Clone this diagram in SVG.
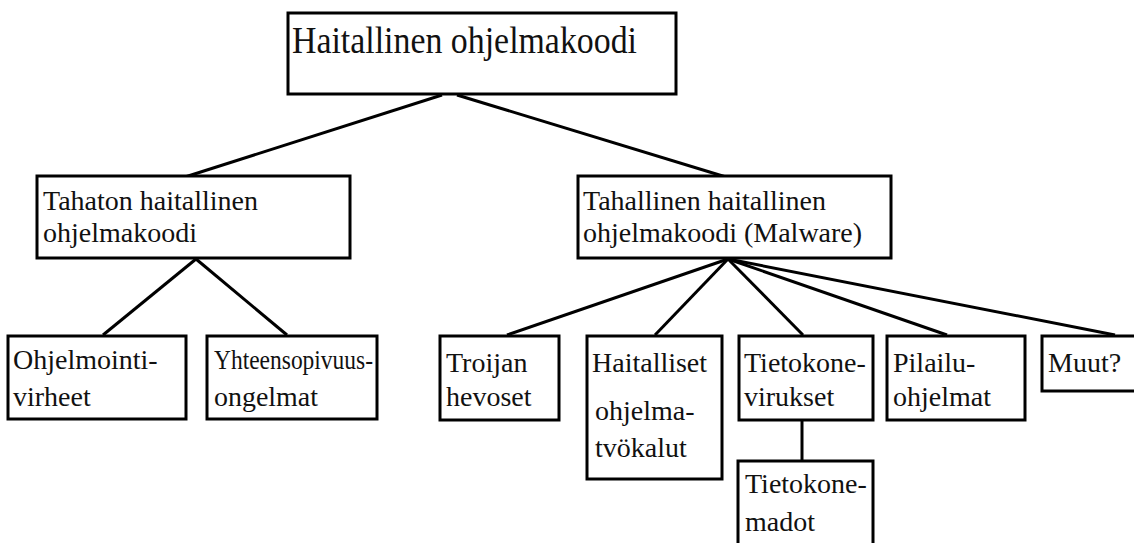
<svg xmlns="http://www.w3.org/2000/svg" width="1134" height="543" viewBox="0 0 1134 543">
<style>
.box{fill:#fff;stroke:#000;stroke-width:3}
.ln{stroke:#000;stroke-width:3;fill:none}
text{font-family:"Liberation Serif","Times New Roman",serif;fill:#111;font-size:28px}
.t{font-size:38px}
</style>
<rect width="1134" height="543" fill="#fff"/>
<g id="connectors">
<line class="ln" x1="442" y1="95" x2="185" y2="177"/>
<line class="ln" x1="457" y1="95" x2="726" y2="177"/>
<line class="ln" x1="196" y1="259" x2="103" y2="335"/>
<line class="ln" x1="196" y1="259" x2="287" y2="335"/>
<line class="ln" x1="728" y1="259" x2="507" y2="335"/>
<line class="ln" x1="728" y1="259" x2="655" y2="335"/>
<line class="ln" x1="728" y1="259" x2="803" y2="335"/>
<line class="ln" x1="728" y1="259" x2="947" y2="335"/>
<line class="ln" x1="728" y1="259" x2="1115" y2="335"/>
<line class="ln" x1="802" y1="420" x2="802" y2="460"/>
</g>
<g id="root">
<rect class="box" x="288" y="13" width="388" height="81"/>
<text class="t" x="292" y="53" textLength="345" lengthAdjust="spacingAndGlyphs">Haitallinen ohjelmakoodi</text>
</g>
<g id="tahaton">
<rect class="box" x="37" y="176" width="313" height="82"/>
<text x="43" y="210">Tahaton haitallinen</text>
<text x="43" y="242">ohjelmakoodi</text>
</g>
<g id="tahallinen">
<rect class="box" x="578" y="176" width="313" height="82"/>
<text x="583" y="210">Tahallinen haitallinen</text>
<text x="583" y="242">ohjelmakoodi (Malware)</text>
</g>
<g id="ohjelmointi">
<rect class="box" x="8" y="336" width="178" height="83"/>
<text x="13" y="369">Ohjelmointi-</text>
<text x="13" y="406">virheet</text>
</g>
<g id="yhteensopivuus">
<rect class="box" x="207" y="336" width="170" height="83"/>
<text x="214" y="369" textLength="159" lengthAdjust="spacingAndGlyphs">Yhteensopivuus-</text>
<text x="214" y="406" textLength="104" lengthAdjust="spacingAndGlyphs">ongelmat</text>
</g>
<g id="troijan">
<rect class="box" x="440" y="336" width="119" height="84"/>
<text x="446" y="372">Troijan</text>
<text x="446" y="406">hevoset</text>
</g>
<g id="haitalliset">
<rect class="box" x="587" y="336" width="135" height="143"/>
<text x="592" y="372">Haitalliset</text>
<text x="595" y="420">ohjelma-</text>
<text x="595" y="457">tvökalut</text>
</g>
<g id="virukset">
<rect class="box" x="739" y="336" width="134" height="84"/>
<text x="744" y="372">Tietokone-</text>
<text x="744" y="406">virukset</text>
</g>
<g id="pilailu">
<rect class="box" x="887" y="336" width="138" height="84"/>
<text x="893" y="372">Pilailu-</text>
<text x="893" y="406">ohjelmat</text>
</g>
<g id="muut">
<rect class="box" x="1042" y="336" width="100" height="55"/>
<text x="1048" y="372">Muut?</text>
</g>
<g id="madot">
<rect class="box" x="738" y="461" width="135" height="90"/>
<text x="745" y="493">Tietokone-</text>
<text x="745" y="531">madot</text>
</g>
</svg>
